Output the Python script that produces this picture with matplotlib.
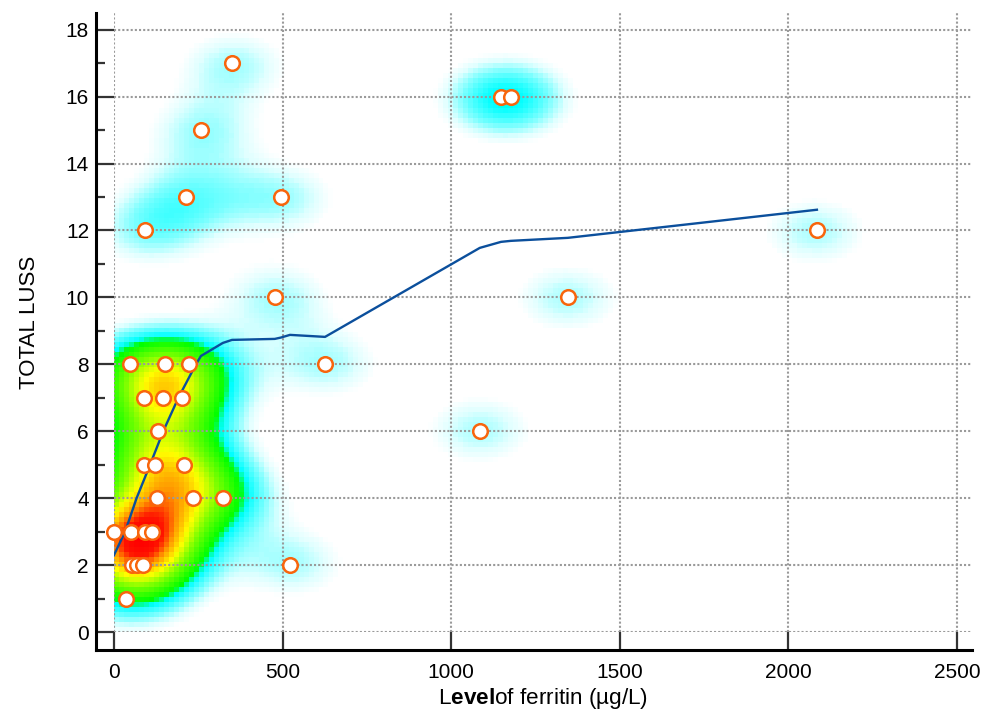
import numpy as np
import matplotlib
matplotlib.use("Agg")
import matplotlib.pyplot as plt
from matplotlib.colors import LinearSegmentedColormap
from matplotlib.ticker import MultipleLocator

plt.rcParams['font.family'] = ['Liberation Sans', 'DejaVu Sans']
plt.rcParams['mathtext.fontset'] = 'custom'
plt.rcParams['mathtext.rm'] = 'Liberation Sans'
plt.rcParams['mathtext.bf'] = 'Liberation Sans:bold'

# ferritin level (ug/L) and TOTAL LUSS for each patient
ferritin = [0, 36, 47, 50, 53, 68, 86, 89, 89, 92, 92, 113, 122, 128, 130, 145, 151,
            202, 208, 214, 222, 234, 258, 323, 350, 477, 495, 522, 626, 1085, 1148,
            1177, 1346, 2085]
luss = [3, 1, 8, 3, 2, 2, 2, 7, 5, 12, 3, 3, 5, 4, 6, 7, 8,
        7, 5, 13, 8, 4, 15, 4, 17, 10, 13, 2, 8, 6, 16,
        16, 10, 12]

# smoothed trend line
trend_x = [0, 33, 67, 107, 146, 191, 243, 258, 323, 350, 477, 495, 522, 626,
           1085, 1148, 1177, 1346, 2085]
trend_y = [2.3, 3.0, 4.0, 5.0, 6.0, 7.0, 8.0, 8.25, 8.64, 8.73, 8.76, 8.8, 8.88, 8.82,
           11.48, 11.66, 11.69, 11.78, 12.62]

XMAX, YMAX = 2545, 18.5

fig = plt.figure(figsize=(9.89, 7.2), dpi=100)
ax = fig.add_axes([114 / 989, 88 / 720, 858 / 989, 619 / 720])

# density heat map behind the points
gx = np.linspace(0, XMAX, 172)
gy = np.linspace(0, YMAX, 124)
GX, GY = np.meshgrid(gx, gy)
sx, sy = 130.0, 0.85
dens = np.zeros_like(GX)
for px, py in zip(ferritin, luss):
    dens += np.exp(-((GX - px) ** 2 / (2 * sx ** 2) + (GY - py) ** 2 / (2 * sy ** 2)))
dmax = dens.max()
low = [(0.0, (1, 1, 1)), (0.5, (1, 1, 1)), (0.78, (0.88, 1, 1)), (1.2, (0.5, 1, 1)),
       (1.9, (0, 1, 1)), (2.5, (0, 1, 0.55))]
high = [(0.36, (0, 1, 0)), (0.56, (0.5, 1, 0)), (0.7, (1, 1, 0)), (0.83, (1, 0.6, 0)),
        (0.93, (1, 0.08, 0)), (1.0, (1, 0, 0))]
stops = [(v / dmax, c) for v, c in low if v / dmax < 0.33] + high
cmap = LinearSegmentedColormap.from_list('heat', stops)
ax.imshow(dens, extent=[0, XMAX, 0, YMAX], origin='lower', aspect='auto',
          cmap=cmap, vmin=0, vmax=dmax, interpolation='nearest', zorder=0)

ax.plot(trend_x, trend_y, color='#0b4f9c', lw=1.7, zorder=3)
ax.plot(ferritin, luss, 'o', ms=10.5, mfc='white', mec='#f8650c', mew=1.8,
        zorder=4, clip_on=False)

ax.set_xlim(0, XMAX)
ax.set_ylim(0, YMAX)
ax.xaxis.set_major_locator(MultipleLocator(500))
ax.yaxis.set_major_locator(MultipleLocator(2))
ax.yaxis.set_minor_locator(MultipleLocator(1))
ax.grid(True, which='major', color='#9a9a9a', linestyle=(0, (1, 1)), lw=1.5)

for s in ['top', 'right']:
    ax.spines[s].set_visible(False)
for s in ['left', 'bottom']:
    ax.spines[s].set_position(('outward', 13))
    ax.spines[s].set_linewidth(2.2)
ax.spines['left'].set_bounds(-18 * YMAX / 619, YMAX)
ax.spines['bottom'].set_bounds(-18 * XMAX / 858, XMAX)

ax.tick_params(axis='both', which='major', direction='in', length=13, width=1.6,
               color='#333333', labelsize=15, labelcolor='black')
ax.tick_params(axis='x', pad=9)
ax.tick_params(axis='y', pad=5)
ax.tick_params(axis='y', which='minor', direction='in', length=6.5, width=1.6,
               color='#333333')

ax.set_xlabel(r'L$\mathbf{evel}$of ferritin (µg/L)', fontsize=16.2)
ax.set_ylabel('TOTAL LUSS', fontsize=16)
ax.xaxis.set_label_coords(0.5, -0.088)
ax.yaxis.set_label_coords(-0.086, 0.5)

fig.savefig('out.png', dpi=100)
